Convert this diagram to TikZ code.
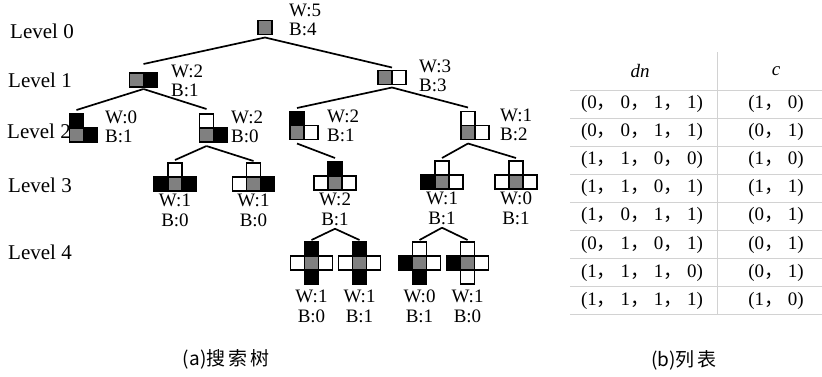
\documentclass[tikz,border=0pt]{standalone}
\usepackage{fontspec}
\setmainfont{Liberation Serif}
\newfontfamily\cjk{Noto Sans CJK SC}
\newfontfamily\cjkls[LetterSpace=15]{Noto Sans CJK SC}
\usetikzlibrary{positioning,calc}
\newcommand{\zc}{{\cjk ，}\ }

\tikzset{
	cell/.style={draw, line width=1.8pt, minimum size=14pt, inner sep=0pt, outer sep=0pt},
	wc/.style={cell, fill=white},
	bc/.style={cell, fill=black},
	gc/.style={cell, fill=gray},
	cnt/.style={align=left, anchor=west, inner sep=0pt, font=\fontsize{19}{19.5}\selectfont},
	cntb/.style={align=center, inner sep=0pt, font=\fontsize{19}{19.5}\selectfont},
	lvl/.style={anchor=west, inner sep=0pt, font=\fontsize{21}{22}\selectfont},
	edge/.style={line width=1.7pt},
	tab/.style={inner sep=0pt, font=\fontsize{19}{20}\selectfont},
	capt/.style={font=\cjk\fontsize{19}{20}\selectfont},
}

\begin{document}
\begin{tikzpicture}[x=1pt, y=-1pt, node distance=0pt]
		\useasboundingbox (0,0) rectangle (822,376);
		% levels
		\node[lvl] (l0) at (10,31) {Level 0};
		\node[lvl] (l1) at (8,80) {Level 1};
		\node[lvl] (l2) at (7,131) {Level 2};
		\node[lvl] (l3) at (8,185) {Level 3};
		\node[lvl] (l4) at (8,252) {Level 4};

		% level 0
		\node[gc] (r) at (265,27.5) {};
		\node[cnt] (r-l) at (289,20) {W:5\\B:4};

		% level 1
		\node[gc] (a) at (136.5,80) {};
		\node[bc, right=of a] (a-r) {};
		\node[cnt] (a-l) at (171,81) {W:2\\B:1};
		\node[gc] (b) at (385,77.5) {};
		\node[wc, right=of b] (b-r) {};
		\node[cnt] (b-l) at (419,76) {W:3\\B:3};

		% level 2
		\node[gc] (aa) at (76.5,135) {};
		\node[bc, above=of aa] (aa-t) {};
		\node[bc, right=of aa] (aa-r) {};
		\node[cnt] (aa-l) at (105,127) {W:0\\B:1};
		\node[gc] (ab) at (206.5,135) {};
		\node[wc, above=of ab] (ab-t) {};
		\node[bc, right=of ab] (ab-r) {};
		\node[cnt] (ab-l) at (231,127) {W:2\\B:0};
		\node[gc] (ba) at (297,132.5) {};
		\node[bc, above=of ba] (ba-t) {};
		\node[wc, right=of ba] (ba-r) {};
		\node[cnt] (ba-l) at (327,126) {W:2\\B:1};
		\node[gc] (bb) at (468,132.5) {};
		\node[wc, above=of bb] (bb-t) {};
		\node[wc, right=of bb] (bb-r) {};
		\node[cnt] (bb-l) at (500,125) {W:1\\B:2};

		% level 3
		\node[gc] (aba) at (175,184) {};
		\node[wc, above=of aba] (aba-t) {};
		\node[bc, left=of aba] (aba-w) {};
		\node[bc, right=of aba] (aba-r) {};
		\node[cntb, below=3pt of aba] (aba-l) {W:1\\B:0};
		\node[gc] (abb) at (253.5,184) {};
		\node[wc, above=of abb] (abb-t) {};
		\node[wc, left=of abb] (abb-w) {};
		\node[bc, right=of abb] (abb-r) {};
		\node[cntb, below=3pt of abb] (abb-l) {W:1\\B:0};
		\node[gc] (baa) at (335,183) {};
		\node[bc, above=of baa] (baa-t) {};
		\node[wc, left=of baa] (baa-w) {};
		\node[wc, right=of baa] (baa-r) {};
		\node[cntb, below=3pt of baa] (baa-l) {W:2\\B:1};
		\node[gc] (bba) at (442,182) {};
		\node[wc, above=of bba] (bba-t) {};
		\node[bc, left=of bba] (bba-w) {};
		\node[wc, right=of bba] (bba-r) {};
		\node[cntb, below=3pt of bba] (bba-l) {W:1\\B:1};
		\node[gc] (bbb) at (516,182) {};
		\node[wc, above=of bbb] (bbb-t) {};
		\node[wc, left=of bbb] (bbb-w) {};
		\node[wc, right=of bbb] (bbb-r) {};
		\node[cntb, below=3pt of bbb] (bbb-l) {W:0\\B:1};

		% level 4
		\node[gc] (baaa) at (311.5,263) {};
		\node[bc, above=of baaa] (baaa-t) {};
		\node[wc, left=of baaa] (baaa-w) {};
		\node[wc, right=of baaa] (baaa-r) {};
		\node[bc, below=of baaa] (baaa-b) {};
		\node[cntb, below=6pt of baaa-b] (baaa-l) {W:1\\B:0};
		\node[gc] (baab) at (359.5,263) {};
		\node[bc, above=of baab] (baab-t) {};
		\node[wc, left=of baab] (baab-w) {};
		\node[wc, right=of baab] (baab-r) {};
		\node[bc, below=of baab] (baab-b) {};
		\node[cntb, below=6pt of baab-b] (baab-l) {W:1\\B:1};
		\node[gc] (bbaa) at (419.5,263) {};
		\node[wc, above=of bbaa] (bbaa-t) {};
		\node[bc, left=of bbaa] (bbaa-w) {};
		\node[wc, right=of bbaa] (bbaa-r) {};
		\node[bc, below=of bbaa] (bbaa-b) {};
		\node[cntb, below=6pt of bbaa-b] (bbaa-l) {W:0\\B:1};
		\node[gc] (bbab) at (467.5,263) {};
		\node[wc, above=of bbab] (bbab-t) {};
		\node[bc, left=of bbab] (bbab-w) {};
		\node[wc, right=of bbab] (bbab-r) {};
		\node[wc, below=of bbab] (bbab-b) {};
		\node[cntb, below=6pt of bbab-b] (bbab-l) {W:1\\B:0};

		% edges
		\draw[edge] ($(r.south)+(0,3)$) -- ($(a.north east)+(0,-9)$);
		\draw[edge] ($(r.south)+(0,3)$) -- ($(b.north east)+(0,-3)$);
		\draw[edge] ($(a.south east)+(0,2)$) -- ($(aa-t.north)+(0,-4)$);
		\draw[edge] ($(a.south east)+(0,2)$) -- ($(ab-t.north)+(0,-5)$);
		\draw[edge] ($(b.south east)+(0,3)$) -- ($(ba-t.north)+(0,-3.5)$);
		\draw[edge] ($(b.south east)+(0,3)$) -- ($(bb-t.north)+(0,-4)$);
		\draw[edge] ($(ab.south)+(0,4)$) -- ($(aba-t.north)+(0,-3)$);
		\draw[edge] ($(ab.south)+(0,4)$) -- ($(abb-t.north)+(0,-2)$);
		\draw[edge] ($(ba.south)+(0,4)$) -- ($(baa-t.north)+(0,-4)$);
		\draw[edge] ($(bb.south)+(0,4)$) -- ($(bba-t.north)+(0,-3)$);
		\draw[edge] ($(bb.south)+(0,4)$) -- ($(bbb-t.north)+(0,-3)$);
		\draw[edge] ($(baa-l.south)+(0,3)$) -- ($(baaa-t.north)+(0,-2)$);
		\draw[edge] ($(baa-l.south)+(0,3)$) -- ($(baab-t.north)+(0,-2)$);
		\draw[edge] ($(bba-l.south)+(0,3)$) -- ($(bbaa-t.north)+(0,-2)$);
		\draw[edge] ($(bba-l.south)+(0,3)$) -- ($(bbab-t.north)+(0,-2)$);

		% table
		\draw[gray!35, line width=1pt] (717,52) -- (717,315);
		\foreach \y in {90,118.1,146.2,174.3,202.4,230.5,258.6,286.7,314.8}
			\draw[gray!35, line width=1pt] (570,\y) -- (822,\y);
		\node[tab] (dn) at (640,71) {\textit{dn}};
		\node[tab] (c) at (776,71) {\textit{c}};
		\foreach \i/\d/\c in {1/{(0\zc 0\zc 1\zc 1)}/{(1\zc 0)},
			2/{(0\zc 0\zc 1\zc 1)}/{(0\zc 1)},
			3/{(1\zc 1\zc 0\zc 0)}/{(1\zc 0)},
			4/{(1\zc 1\zc 0\zc 1)}/{(1\zc 1)},
			5/{(1\zc 0\zc 1\zc 1)}/{(0\zc 1)},
			6/{(0\zc 1\zc 0\zc 1)}/{(0\zc 1)},
			7/{(1\zc 1\zc 1\zc 0)}/{(0\zc 1)},
			8/{(1\zc 1\zc 1\zc 1)}/{(1\zc 0)}}
		{
			\node[tab] (dn\i) at (642,{104+28.1*(\i-1)}) {\d};
			\node[tab] (c\i) at (776,{104+28.1*(\i-1)}) {\c};
		}

		% captions
		\node[capt] (cap-a) at (226,359) {(a){\cjkls 搜索树}};
		\node[capt] (cap-b) at (684,360) {(b){\cjkls 列表}};
\end{tikzpicture}
\end{document}
